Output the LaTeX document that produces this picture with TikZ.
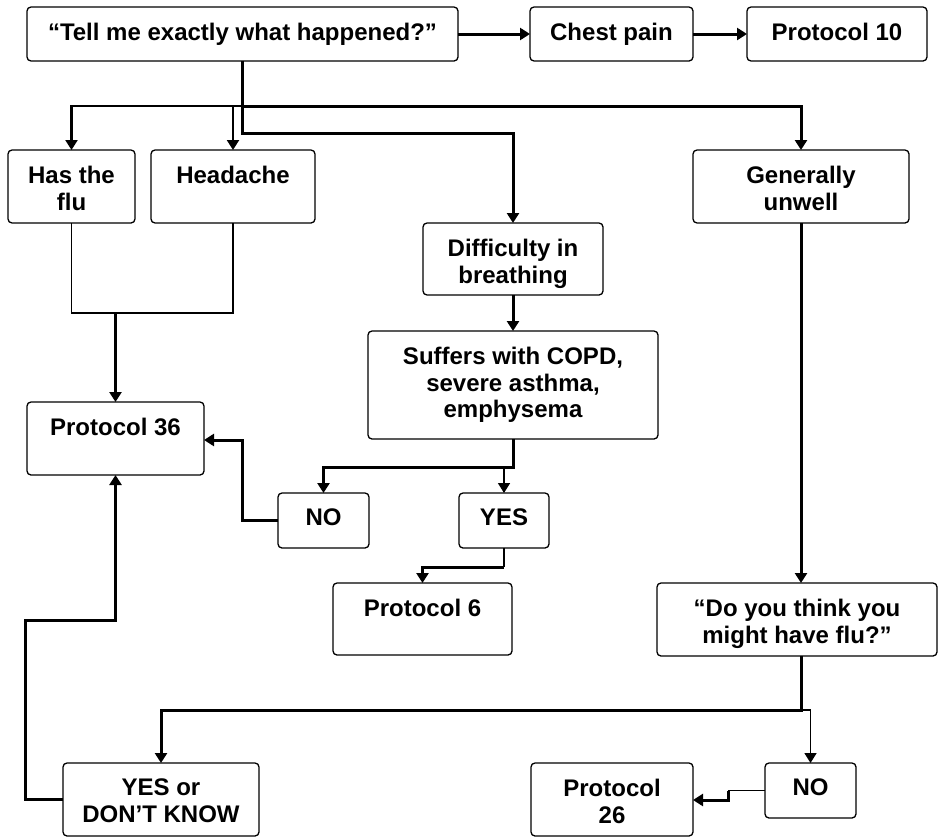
\documentclass[tikz,border=0pt]{standalone}
\usepackage{fontspec}
\setmainfont{Liberation Sans}
\usetikzlibrary{arrows.meta}
\begin{document}
\begin{tikzpicture}[x=1pt,y=-1pt,
  box/.style={draw, line width=1.3pt, rounded corners=4pt, inner sep=0pt, outer sep=0pt},
  lbl/.style={anchor=north, yshift=-16pt, inner sep=0pt, align=center,
              font=\fontsize{24}{26.5}\selectfont\bfseries},
  heavy/.style={line width=3pt},
  medium/.style={line width=2.2pt},
  light/.style={line width=1.6pt},
  tip/.style={-{Triangle[width=12pt,length=10pt]}},
]
\fill[white] (0,0) rectangle (940,838);
\useasboundingbox (0,0) rectangle (940,838);

% ---- boxes ----
\node[box, minimum width=431pt, minimum height=54pt, label={[lbl]north:{“Tell me exactly what happened?”}}] (tell) at (242.5,34) {};
\node[box, minimum width=163pt, minimum height=54pt, label={[lbl]north:{Chest pain}}] (chest) at (611.5,34) {};
\node[box, minimum width=180pt, minimum height=54pt, label={[lbl]north:{Protocol 10}}] (p10) at (837,34) {};

\node[box, minimum width=127pt, minimum height=73pt, label={[lbl]north:{Has the\\flu}}] (flu) at (71.5,186.5) {};
\node[box, minimum width=164pt, minimum height=73pt, label={[lbl]north:{Headache}}] (head) at (233,186.5) {};
\node[box, minimum width=216pt, minimum height=73pt, label={[lbl]north:{Generally\\unwell}}] (unwell) at (801,186.5) {};
\node[box, minimum width=180pt, minimum height=72pt, label={[lbl]north:{Difficulty in\\breathing}}] (diff) at (513,259) {};
\node[box, minimum width=290pt, minimum height=108pt, label={[lbl]north:{Suffers with COPD,\\severe asthma,\\emphysema}}] (suffers) at (513,385) {};

\node[box, minimum width=177pt, minimum height=73pt, label={[lbl]north:{Protocol 36}}] (p36) at (115.5,438.5) {};
\node[box, minimum width=91pt, minimum height=55pt, label={[lbl]north:{NO}}] (no1) at (323.5,520.5) {};
\node[box, minimum width=90pt, minimum height=55pt, label={[lbl]north:{YES}}] (yes1) at (504,520.5) {};
\node[box, minimum width=179pt, minimum height=72pt, label={[lbl]north:{Protocol 6}}] (p6) at (422.5,619) {};
\node[box, minimum width=280pt, minimum height=73pt, label={[lbl]north:{“Do you think you\\might have flu?”}}] (think) at (797,619.5) {};

\node[box, minimum width=196pt, minimum height=73pt, label={[lbl]north:{YES or\\DON’T KNOW}}] (yesdk) at (161,799.5) {};
\node[box, minimum width=162pt, minimum height=73pt, label={[lbl]north:{Protocol\\26}}] (p26) at (612,799.5) {};
\node[box, minimum width=91pt, minimum height=55pt, label={[lbl]north:{NO}}] (no2) at (810.5,790.5) {};

% ---- junction points ----
\coordinate (trunk)  at (242.5,133);
\coordinate (fan)    at (242.5,106);
\coordinate (merge)  at (115.5,313);
\coordinate (split)  at (513,467);
\coordinate (noturn) at (242,440);
\coordinate (yesdn)  at (504,567);
\coordinate (fork)   at (801,710);
\coordinate (jogA)   at (728,790.5);
\coordinate (jogB)   at (728,800);
\coordinate (backA)  at (25,800);
\coordinate (backB)  at (25,620);

% ---- connectors ----
\draw[heavy, tip] (tell.east) -- (chest.west);
\draw[heavy, tip] (chest.east) -- (p10.west);

\draw[heavy, tip] (tell.south) -- (trunk) -| (diff.north);
\draw[heavy, tip] (fan) -| (unwell.north);
\draw[medium, tip] (fan) -| (flu.north);
\draw[medium, tip] (head.north |- fan) -- (head.north);

\draw[light] (flu.south) |- (head.south |- merge) -- (head.south);
\draw[heavy, tip] (merge) -- (p36.north);

\draw[heavy, tip] (diff.south) -- (suffers.north);
\draw[heavy, tip] (suffers.south) -- (split) -| (no1.north);
\draw[light, tip] (yes1.north |- split) -- (yes1.north);

\draw[heavy, tip] (no1.west) -| (noturn) -- (p36.east |- noturn);

\draw[light] (yes1.south) -- (yesdn);
\draw[heavy, tip] (yesdn) -| (p6.north);

\draw[heavy, tip] (unwell.south) -- (unwell.south |- think.north);
\draw[heavy, tip] (unwell.south |- think.south) -- (fork) -| (yesdk.north);
\draw[light, tip] (fork) -| (no2.north);

\draw[light] (no2.west) -- (jogA);
\draw[heavy, tip] (jogA) -- (jogB) -- (p26.east |- jogB);

\draw[heavy, tip] (yesdk.west) -- (yesdk.west -| backA) |- (backB) -| (p36.south);
\end{tikzpicture}
\end{document}
